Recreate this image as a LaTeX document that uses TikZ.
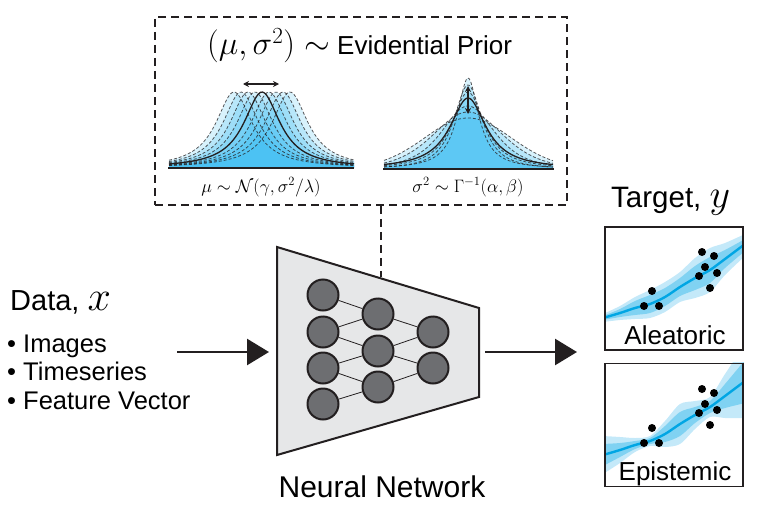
\RequirePackage{fix-cm}
\documentclass[tikz,border=0pt]{standalone}
\usepackage[no-math]{fontspec}
\setmainfont{Liberation Sans}
\usetikzlibrary{arrows.meta}
\definecolor{bandlight}{RGB}{196,233,249}
\definecolor{bandmid}{RGB}{128,210,242}
\definecolor{meanblue}{RGB}{0,166,228}
\definecolor{priorblue}{RGB}{40,182,240}
\definecolor{trapgray}{RGB}{230,231,232}
\definecolor{neurongray}{RGB}{109,110,113}
\definecolor{inkgray}{RGB}{35,31,32}
\tikzset{
  neuron/.style={circle, draw=inkgray, fill=neurongray, line width=2pt, minimum size=31pt, inner sep=0pt},
  synapse/.style={draw=inkgray, line width=0.8pt},
  boxdash/.style={draw=inkgray, line width=1.8pt, dash pattern=on 8pt off 5pt},
  bigarrow/.style={draw=inkgray, line width=2.6pt, -{Triangle[length=22pt,width=26pt]}},
  panel/.style={draw=inkgray, line width=1.4pt, minimum width=138pt, minimum height=123pt, inner sep=0pt},
  curvedash/.style={draw=inkgray, draw opacity=0.75, line width=0.8pt, dash pattern=on 3pt off 2pt},
  curvesolid/.style={draw=inkgray, line width=1.3pt},
  priorfill/.style={fill=priorblue, fill opacity=0.18},
  smallarrow/.style={draw=inkgray, line width=1.2pt, {Stealth[length=6pt,width=6pt]}-{Stealth[length=6pt,width=6pt]}},
  dot/.style={fill=black}
}
\begin{document}
\begin{tikzpicture}[x=1pt,y=-1pt]
\useasboundingbox (0,0) rectangle (759,527);

% ---------- Evidential prior box ----------
\node[boxdash, minimum width=412pt, minimum height=188pt, inner sep=0pt] (prior) at (361,111) {};
\node[anchor=base west, inner sep=0pt, font=\fontsize{26}{28}\selectfont] (priortitle) at (207,55) {{\fontsize{33}{35}\selectfont$(\mu,\sigma^2)\sim$} Evidential Prior};

% left prior: shifted heavy-tailed curves
\foreach \m in {-28,-21,-14,-7,0,7,14,21,28} {
  \fill[priorfill] (169,168) -- plot[domain=169:354, samples=90] (\x, {168-76/(1+((\x-262-\m)/22)^2)}) -- (354,168) -- cycle;
}
\foreach \m in {-28,-21,-14,-7,7,14,21,28} {
  \draw[curvedash] plot[domain=169:354, samples=90] (\x, {168-76/(1+((\x-262-\m)/22)^2)});
}
\draw[curvesolid] plot[domain=169:354, samples=90] (\x, {168-76/(1+((\x-262)/22)^2)});
\draw[inkgray, line width=1.4pt] (168,168) -- (354,168);
\coordinate (ml) at (243,84);
\coordinate (mr) at (279,84);
\draw[smallarrow] (ml) -- (mr);
\node[anchor=base, font=\fontsize{18}{20}\selectfont] (mulabel) at (261,192) {$\mu\sim\mathcal{N}(\gamma,\sigma^2/\lambda)$};

% right prior: curves of varying spread (height/scale/tail)
\foreach \h/\s/\n in {91/13/1, 84/16/1.5, 77/19/1.2, 71/22/1, 63/28/3, 57/36/6, 51/44/30} {
  \fill[priorfill] (384,169) -- plot[domain=384:553, samples=120] (\x, {169-\h*(1+((\x-468)/\s)^2/\n)^(-(\n+1)/2)}) -- (553,169) -- cycle;
}
\foreach \h/\s/\n in {91/13/1, 84/16/1.5, 77/19/1.2, 63/28/3, 57/36/6, 51/44/30} {
  \draw[curvedash] plot[domain=384:553, samples=120] (\x, {169-\h*(1+((\x-468)/\s)^2/\n)^(-(\n+1)/2)});
}
\draw[curvesolid] plot[domain=384:553, samples=120] (\x, {169-71/(1+((\x-468)/22)^2)});
\draw[inkgray, line width=1.4pt] (383,169) -- (554,169);
\coordinate (vt) at (468,86);
\coordinate (vb) at (468,114);
\draw[smallarrow] (vt) -- (vb);
\node[anchor=base, font=\fontsize{18}{20}\selectfont] (sigmalabel) at (468,192) {$\sigma^2\sim\Gamma^{-1}(\alpha,\beta)$};

% ---------- Neural network ----------
\draw[draw=inkgray, fill=trapgray, line width=2pt, line join=miter] (277,247) -- (479,308) -- (479,397) -- (277,455) -- cycle;
\coordinate (nntop) at (381,277);
\draw[boxdash] (prior.south -| nntop) -- (nntop);

\node[neuron] (a1) at (323,295) {};
\node[neuron] (a2) at (323,332) {};
\node[neuron] (a3) at (323,368) {};
\node[neuron] (a4) at (323,404) {};
\node[neuron] (b1) at (378,314) {};
\node[neuron] (b2) at (378,351) {};
\node[neuron] (b3) at (378,387) {};
\node[neuron] (c1) at (433,332) {};
\node[neuron] (c2) at (433,368) {};
\draw[synapse] (a1) -- (b1);
\draw[synapse] (a2) -- (b1);
\draw[synapse] (a2) -- (b2);
\draw[synapse] (a3) -- (b2);
\draw[synapse] (a3) -- (b3);
\draw[synapse] (a4) -- (b3);
\draw[synapse] (b1) -- (c1);
\draw[synapse] (b2) -- (c1);
\draw[synapse] (b2) -- (c2);
\draw[synapse] (b3) -- (c2);
\node[anchor=base, font=\fontsize{30}{32}\selectfont] (nnlabel) at (382,497) {Neural Network};

% ---------- Data ----------
\node[anchor=base west, font=\fontsize{29}{31}\selectfont, inner sep=0pt] (data) at (10,310) {Data, {\fontsize{42}{44}\selectfont$x$}};
\node[anchor=base west, font=\fontsize{25.5}{27}\selectfont, inner sep=0pt] (b1txt) at (7,352) {• Images};
\node[anchor=base west, font=\fontsize{25.5}{27}\selectfont, inner sep=0pt] (b2txt) at (7,380) {• Timeseries};
\node[anchor=base west, font=\fontsize{25.5}{27}\selectfont, inner sep=0pt] (b3txt) at (7,409) {• Feature Vector};
\coordinate (inS) at (177,352);
\coordinate (inE) at (269,352);
\draw[bigarrow] (inS) -- (inE);
\coordinate (outS) at (485,352);
\coordinate (outE) at (577,352);
\draw[bigarrow] (outS) -- (outE);

% ---------- Target ----------
\node[anchor=base west, inner sep=0pt, font=\fontsize{29.5}{31}\selectfont] (target) at (611,207) {Target, {\fontsize{40}{42}\selectfont$y$}};

% Aleatoric panel
\node[panel] (alea) at (674,288.5) {};
\begin{scope}
\clip (alea.south west) rectangle (alea.north east);
\fill[bandlight] plot[smooth] coordinates {(603,314)(620,306)(635,297)(650,290)(665,282)(680,272)(695,258)(710,248)(725,243)(745,234)}
  -- plot[smooth] coordinates {(745,256)(725,275)(710,292)(695,298)(680,302)(665,312)(650,318)(635,319)(620,320)(603,322)} -- cycle;
\fill[bandmid] plot[smooth] coordinates {(603,316)(620,309)(635,301)(650,295)(665,288)(680,278)(695,266)(710,257)(725,250)(745,239)}
  -- plot[smooth] coordinates {(745,251)(725,268)(710,283)(695,290)(680,296)(665,306)(650,313)(635,315)(620,317)(603,320)} -- cycle;
\draw[meanblue, line width=2.4pt] plot[smooth] coordinates {(603,318)(620,313)(635,308)(650,304)(665,297)(680,287)(695,278)(710,270)(725,259)(745,244)};
\end{scope}
\foreach \p in {(652,291),(644,306),(659,306),(702,252),(714,256),(705,267),(699,276),(717,273),(710,288)}
  \fill[dot] \p circle (4pt);
\node[anchor=base, font=\fontsize{26}{28}\selectfont] (alealabel) at (675,344) {Aleatoric};
\node[panel] at (alea) {};

% Epistemic panel
\node[panel] (epis) at (674,425) {};
\begin{scope}
\clip (epis.south west) rectangle (epis.north east);
\fill[bandlight] plot[smooth] coordinates {(603,436)(620,437)(635,438)(650,436)(665,421)(680,404)(695,401)(710,397)(725,374)(745,344)}
  -- plot[smooth] coordinates {(745,418)(725,418)(710,417)(695,429)(680,444)(665,447)(650,446)(635,452)(620,463)(603,474)} -- cycle;
\fill[bandmid] plot[smooth] coordinates {(603,444)(620,443)(635,441)(650,438)(665,426)(680,412)(695,407)(710,401)(725,384)(745,360)}
  -- plot[smooth] coordinates {(745,403)(725,408)(710,413)(695,423)(680,436)(665,442)(650,444)(635,449)(620,457)(603,466)} -- cycle;
\draw[meanblue, line width=2.4pt] plot[smooth] coordinates {(603,455)(620,450)(635,445)(650,441)(665,434)(680,424)(695,415)(710,407)(725,396)(745,381)};
\end{scope}
\foreach \p in {(652,428),(644,443),(659,443),(702,389),(714,393),(705,404),(699,413),(717,410),(710,425)}
  \fill[dot] \p circle (4pt);
\node[anchor=base, font=\fontsize{26}{28}\selectfont] (epilabel) at (675,480) {Epistemic};
\node[panel] at (epis) {};
\end{tikzpicture}
\end{document}
